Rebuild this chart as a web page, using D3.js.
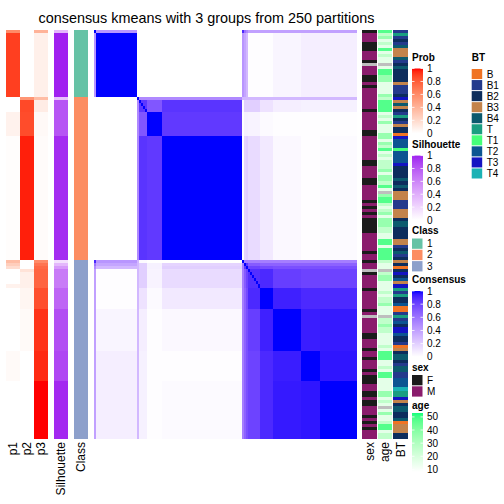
<!DOCTYPE html>
<html><head><meta charset="utf-8">
<script src="https://cdn.jsdelivr.net/npm/d3@7"></script>
<style>body{margin:0;background:#fff}svg{display:block}text{font-family:"Liberation Sans",Arial,Helvetica,sans-serif;fill:#000}</style>
</head><body><svg id="c" width="504" height="504"></svg>
<script>
// ---------------- data (run-length: [value, count]) ----------------
const titleText = "consensus kmeans with 3 groups from 250 partitions";
const classRuns = [[1,22],[2,54],[3,59]];
const p1Runs = [[0.6,1],[0.9,21],[0,5],[0.07,8],[0.01,41],[0.35,1],[0.26,1],[0.18,1],[0,5],[0.07,1],[0,21],[0.025,10],[0,19]];
const p2Runs = [[0,22],[0.55,1],[0.87,4],[0.86,8],[0.97,41],[0,3],[0.15,1],[0.08,5],[0.05,7],[0.025,14],[0,29]];
const p3Runs = [[0.4,1],[0.08,21],[0.35,1],[0.1,4],[0.03,8],[0.02,41],[0.6,1],[0.7,1],[0.75,1],[0.77,6],[0.85,7],[0.93,14],[0.95,10],[1.0,19]];
const silRuns = [[0.35,1],[1.0,21],[0.3,1],[0.82,12],[0.97,41],[0.15,1],[0.35,1],[0.5,1],[0.65,6],[0.75,7],[0.85,14],[0.88,10],[0.98,19]];
const sexRuns = [["F",1],["M",3],["F",3],["M",3],["F",1],["NA",1],["M",3],["F",2],["M",1],["F",1],["M",7],["F",1],["M",6],["F",2],["M",8],["F",2],["M",4],["F",2],["M",5],["F",1],["M",1],["F",1],["M",1],["F",1],["M",1],["F",5],["M",6],["F",1],["M",2],["F",1],["M",2],["NA",1],["F",1],["M",4],["F",1],["M",6],["F",1],["M",1],["NA",1],["M",5],["F",2],["M",3],["F",1],["M",2],["F",1],["M",3],["F",1],["M",1],["F",3],["M",2],["F",2],["M",1],["F",2],["M",3],["F",1],["M",1],["F",1],["M",1],["F",1],["M",3]];
const ageRuns = [[48,1],[26,1],[36,1],[16,1],[26,1],[16,1],[48,1],[16,1],[26,1],[16,2],[null,1],[16,1],[48,2],[36,2],[16,4],[36,1],[26,1],[48,4],[16,1],[26,1],[16,1],[36,1],[16,3],[36,2],[16,1],[36,1],[26,1],[48,1],[16,1],[26,1],[16,1],[26,3],[36,1],[16,1],[36,2],[26,1],[48,1],[16,1],[null,1],[36,1],[48,2],[26,1],[16,1],[26,1],[36,1],[16,1],[36,3],[26,2],[16,2],[48,2],[16,1],[48,4],[26,1],[16,2],[null,1],[26,1],[36,2],[16,3],[26,1],[16,1],[26,2],[36,1],[16,3],[null,1],[26,2],[36,1],[26,2],[16,4],[26,1],[16,1],[48,3],[16,2],[26,1],[16,1],[48,2],[16,4],[36,2],[16,1],[26,1],[16,1],[null,1],[16,1],[36,1],[16,2],[26,1],[48,2],[16,1],[26,2]];
const btRuns = [["B1",1],["T",1],["B1",1],["B2",1],["B1",1],["B4",1],["B3",3],["B4",1],["B1",1],["B2",1],["B4",1],["B2",4],["B3",1],["B1",3],["B2",1],["T3",1],["B3",1],["B4",1],["B3",1],["B2",1],["B1",1],["T",1],["B2",1],["B1",1],["B3",1],["B2",2],["B",1],["T3",1],["T2",3],["T1",1],["T2",4],["T3",1],
  ["B2",4],["B4",1],["B2",1],["B4",1],["B2",1],["B3",3],["B1",3],["B3",3],["B2",1],["B4",2],["B2",4],["B3",2],["B1",1],["B2",1],["B4",1],["B1",1],["B2",1],["B3",1],["B2",1],["B",1],["B2",1],["T3",1],["B2",1],["T2",1],["B3",1],["T3",1],["T",1],["B1",1],["T",1],["B2",2],
  ["T2",1],["B",2],["B1",1],["T",1],["B1",1],["T2",1],["B2",1],["T3",2],["T2",1],["B2",2],["B1",1],["B",1],["B3",1],["B2",1],["B4",2],["B2",1],["B1",1],["B4",2],["B1",2],["T2",3],["T4",1],["T",2],["T3",1],["B3",1],["B2",1],["B4",2],["B2",2],["B4",1],["B",1],["B3",3],["B2",2]];
// consensus matrix: sizes of consecutive sample blocks and block-to-block consensus
const blockSizes = [1,21,1,4,8,41,1,1,1,6,7,14,10,19];
const blockConsensus = [
 [1,.45,0,0,0,0,.9,.6,.5,.4,.4,.4,.4,.4],
 [.45,1,0,0,0,0,.45,.38,.3,.01,.01,.04,.07,.07],
 [0,0,1,.5,.5,.5,.3,.3,.3,.3,.3,.3,.3,.3],
 [0,0,.5,.85,.72,.86,.02,.2,.2,.2,.12,.07,.06,.06],
 [0,0,.5,.72,1,.84,0,.06,.06,.05,.02,.01,.01,.01],
 [0,0,.5,.86,.84,1,0,.18,.2,.15,.09,.03,.01,.02],
 [.9,.45,.3,.02,0,0,1,.55,.55,.55,.55,.55,.55,.55],
 [.6,.38,.3,.2,.06,.18,.55,1,.85,.7,.67,.67,.67,.67],
 [.5,.3,.3,.2,.06,.2,.55,.85,1,.8,.77,.75,.75,.75],
 [.4,.01,.3,.2,.05,.15,.55,.7,.8,.88,.9,.82,.8,.8],
 [.4,.01,.3,.12,.02,.09,.55,.67,.77,.9,1,.93,.9,.9],
 [.4,.04,.3,.07,.01,.03,.55,.67,.75,.82,.93,1,.94,.95],
 [.4,.07,.3,.06,.01,.01,.55,.67,.75,.8,.9,.94,1,.96],
 [.4,.07,.3,.06,.01,.02,.55,.67,.75,.8,.9,.95,.96,1]];
const btLevels = ["B","B1","B2","B3","B4","T","T1","T2","T3","T4"];
const btColors = ["#F07323","#243A8C","#0D2D5D","#C3834B","#0C5A6E","#1A9E81","#45FF7A","#0C5592","#1414C2","#1BB2B5"];
const classLevels = [1,2,3];
const classColors = ["#66C2A5","#FC8D62","#8DA0CB"];
const sexLevels = ["F","M"];
const sexColors = ["#1B1B1B","#8A1C6C"];
const probTicks = [0,0.2,0.4,0.6,0.8,1];
const ageTicks = [10,20,30,40,50];
const ageRange = [8,53];

// ---------------- helpers ----------------
const expand = runs => runs.flatMap(([v,c]) => Array(c).fill(v));
const cls = expand(classRuns), p1 = expand(p1Runs), p2 = expand(p2Runs), p3 = expand(p3Runs),
      sil = expand(silRuns), sex = expand(sexRuns), age = expand(ageRuns), bt = expand(btRuns);
const n = cls.length;
const blockOf = blockSizes.flatMap((s,b) => Array(s).fill(b));

const svg = d3.select("#c");
const probCol = d3.scaleLinear().domain([0,1]).range(["#ffffff","#ff0000"]).interpolate(d3.interpolateLab);
const silCol = d3.scaleLinear().domain([0,1]).range(["#ffffff","#a020f0"]).interpolate(d3.interpolateLab);
const consCol = d3.scaleLinear().domain([0,1]).range(["#ffffff","#0000ff"]).interpolate(d3.interpolateLab);
const ageCol = d3.scaleLinear().domain(ageRange).range(["#ffffff","#14ff7c"]).interpolate(d3.interpolateLab);
const classCol = d3.scaleOrdinal().domain(classLevels).range(classColors);
const sexCol = d3.scaleOrdinal().domain(sexLevels).range(sexColors);
const btCol = d3.scaleOrdinal().domain(btLevels).range(btColors);
const naCol = "#BEBEBE";

const idx = d3.range(n);
const y = d3.scaleBand().domain(idx).range([30,439]);
const xH = d3.scaleBand().domain(idx).range([94,357]);
const xL = d3.scaleBand().domain(["p1","p2","p3"]).range([6,48]);
const xS = d3.scaleBand().domain(["Silhouette"]).range([54,68]);
const xC = d3.scaleBand().domain(["Class"]).range([74,88]);
const xR = d3.scaleBand().domain(["sex","age","BT"]).range([362,408]).paddingInner(0.07);

// title
svg.append("text").attr("x",206.5).attr("y",23).attr("text-anchor","middle")
  .style("font-size","14.4px").text(titleText);

const cells = svg.append("g").attr("shape-rendering","crispEdges");
function annCol(xs, key, vals, colorFn){
  cells.append("g").selectAll("rect").data(idx).join("rect")
    .attr("x", xs(key)).attr("width", xs.bandwidth())
    .attr("y", i => y(i)).attr("height", y.bandwidth())
    .attr("fill", i => colorFn(vals[i]));
}
annCol(xL,"p1",p1,probCol); annCol(xL,"p2",p2,probCol); annCol(xL,"p3",p3,probCol);
annCol(xS,"Silhouette",sil,silCol);
annCol(xC,"Class",cls,classCol);
annCol(xR,"sex",sex,v => v==="NA" ? naCol : sexCol(v));
annCol(xR,"age",age,v => v==null ? naCol : ageCol(v));
annCol(xR,"BT",bt,btCol);

// consensus heatmap
const cellData = [];
for (let i=0;i<n;i++) for (let j=0;j<n;j++)
  cellData.push({i,j,v: i===j ? 1 : blockConsensus[blockOf[i]][blockOf[j]]});
cells.append("g").selectAll("rect").data(cellData).join("rect")
  .attr("x", d => xH(d.j)).attr("y", d => y(d.i))
  .attr("width", xH.bandwidth()+0.02).attr("height", y.bandwidth()+0.02)
  .attr("fill", d => consCol(d.v));

// bottom labels
const bottomLabels = [
  ["p1", xL("p1")+xL.bandwidth()/2],["p2", xL("p2")+xL.bandwidth()/2],["p3", xL("p3")+xL.bandwidth()/2],
  ["Silhouette", xS("Silhouette")+xS.bandwidth()/2],["Class", xC("Class")+xC.bandwidth()/2],
  ["sex", xR("sex")+xR.bandwidth()/2],["age", xR("age")+xR.bandwidth()/2],["BT", xR("BT")+xR.bandwidth()/2]];
svg.append("g").selectAll("text").data(bottomLabels).join("text")
  .attr("transform", d => `translate(${d[1]},442) rotate(-90)`)
  .attr("text-anchor","end").attr("dy","0.36em").style("font-size","12px").text(d => d[0]);

// legends
const defs = svg.append("defs");
const LX = 412, BW = 11;
function legendTitle(x, yb, t){
  svg.append("text").attr("x",x).attr("y",yb).style("font-size","10px").style("font-weight","bold").text(t);
}
function contLegend(id, title, yTitle, yTop, yBot, dom, colorFn, ticks){
  legendTitle(LX, yTitle, title);
  const g = defs.append("linearGradient").attr("id",id).attr("x1",0).attr("x2",0).attr("y1",0).attr("y2",1);
  d3.range(0,1.0001,0.05).forEach(t => {
    g.append("stop").attr("offset",t).attr("stop-color", colorFn(dom[1] - t*(dom[1]-dom[0])));
  });
  svg.append("rect").attr("x",LX).attr("y",yTop).attr("width",BW).attr("height",yBot-yTop).attr("fill",`url(#${id})`);
  const ys = d3.scaleLinear().domain(dom).range([yBot,yTop]);
  const tg = svg.append("g");
  ticks.forEach(v => {
    const yy = ys(v);
    tg.append("line").attr("x1",LX).attr("x2",LX+2.5).attr("y1",yy).attr("y2",yy).attr("stroke","#fff").attr("stroke-width",0.8);
    tg.append("line").attr("x1",LX+BW-2.5).attr("x2",LX+BW).attr("y1",yy).attr("y2",yy).attr("stroke","#fff").attr("stroke-width",0.8);
    tg.append("text").attr("x",LX+BW+4).attr("y",yy).attr("dy","0.35em").style("font-size","10px").text(String(v));
  });
}
function discLegend(x, title, yTitle, yTop, pitch, levels, colorFn){
  legendTitle(x, yTitle, title);
  levels.forEach((l,k) => {
    svg.append("rect").attr("x",x).attr("y",yTop+k*pitch).attr("width",10.5).attr("height",pitch-1).attr("fill",colorFn(l));
    svg.append("text").attr("x",x+15).attr("y",yTop+k*pitch+(pitch-1)/2).attr("dy","0.35em").style("font-size","10px").text(String(l));
  });
}
contLegend("gProb","Prob",60.6,68.5,133.3,[0,1],probCol,probTicks);
contLegend("gSil","Silhouette",148.3,155.6,220,[0,1],silCol,probTicks);
discLegend(LX,"Class",234,238.5,11.3,classLevels,classCol);
contLegend("gCons","Consensus",283,291,356.8,[0,1],consCol,probTicks);
discLegend(LX,"sex",370.6,375,11.3,sexLevels,sexCol);
contLegend("gAge","age",408.5,413,472,ageRange,ageCol,ageTicks);
discLegend(471.7,"BT",61,69,11.05,btLevels,btCol);
</script></body></html>
